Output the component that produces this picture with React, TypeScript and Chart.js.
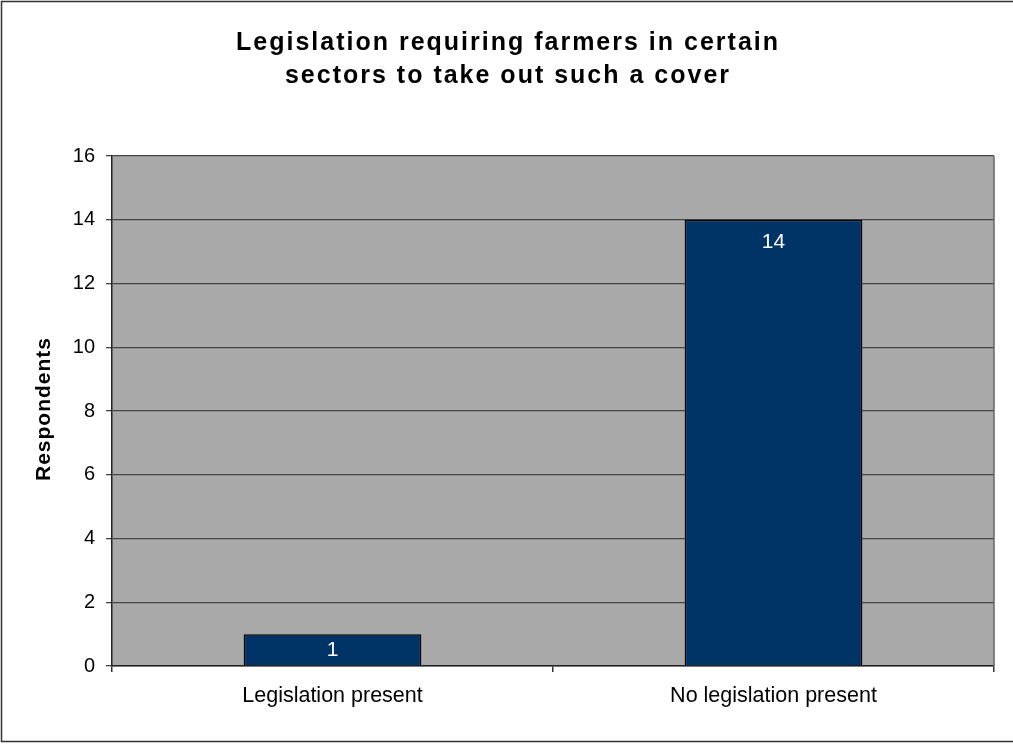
import React, { useEffect, useRef } from "react";
import { Chart, registerables } from "chart.js";

Chart.register(...registerables);

const titleLines = ["Legislation requiring farmers in certain", "sectors to take out such a cover"];
const yAxisTitle = "Respondents";
const categories = ["Legislation present", "No legislation present"];
const respondents = [1, 14];
const yTicks = [0, 2, 4, 6, 8, 10, 12, 14, 16];

const FONT = "'Liberation Sans', Arial, sans-serif";

const decorPlugin = {
  id: "decor",
  beforeDraw(chart: any) {
    const { ctx, chartArea } = chart;
    ctx.save();
    ctx.fillStyle = "#ffffff";
    ctx.fillRect(0, 0, chart.width, chart.height);
    ctx.fillStyle = "#A9A9A9";
    ctx.fillRect(chartArea.left, chartArea.top, chartArea.right - chartArea.left, chartArea.bottom - chartArea.top);
    ctx.strokeStyle = "#333333";
    ctx.lineWidth = 1.5;
    ctx.beginPath();
    ctx.moveTo(chart.width, 1.5);
    ctx.lineTo(1.5, 1.5);
    ctx.lineTo(1.5, 741.5);
    ctx.lineTo(chart.width, 741.5);
    ctx.stroke();
    ctx.restore();
  },
  afterDatasetsDraw(chart: any) {
    const { ctx, chartArea } = chart;
    ctx.save();
    ctx.strokeStyle = "#666666";
    ctx.lineWidth = 1.5;
    ctx.beginPath();
    ctx.moveTo(chartArea.right, chartArea.top);
    ctx.lineTo(chartArea.right, chartArea.bottom);
    ctx.stroke();
    const meta = chart.getDatasetMeta(0);
    ctx.fillStyle = "#ffffff";
    ctx.font = `21px ${FONT}`;
    ctx.textAlign = "center";
    ctx.textBaseline = "middle";
    meta.data.forEach((bar: any, i: number) => {
      const top = bar.y;
      const bottom = bar.base;
      const y = Math.min(top + 22, (top + bottom) / 2);
      ctx.fillText(String(respondents[i]), bar.x, y);
    });
    ctx.fillStyle = "#000000";
    ctx.font = `bold 25px ${FONT}`;
    (ctx as any).letterSpacing = "2px";
    ctx.textBaseline = "alphabetic";
    ctx.fillText(titleLines[0], 508, 49.5);
    ctx.fillText(titleLines[1], 508, 83);
    (ctx as any).letterSpacing = "1px";
    ctx.font = `bold 21px ${FONT}`;
    ctx.translate(44, 409);
    ctx.rotate(-Math.PI / 2);
    ctx.textBaseline = "middle";
    ctx.fillText(yAxisTitle, 0, 0);
    ctx.restore();
  },
};

export default function App() {
  const ref = useRef<HTMLCanvasElement>(null);
  useEffect(() => {
    document.body.style.margin = "0";
    const chart = new Chart(ref.current!, {
      type: "bar",
      data: {
        labels: categories,
        datasets: [
          {
            data: respondents,
            backgroundColor: "#003366",
            borderColor: "#000000",
            borderWidth: 1.5,
            barPercentage: 0.403,
            categoryPercentage: 1,
          },
        ],
      },
      options: {
        animation: false,
        responsive: false,
        layout: { padding: { top: 156, right: 19, left: 0, bottom: 0 } },
        plugins: { legend: { display: false }, title: { display: false }, tooltip: { enabled: false } },
        scales: {
          x: {
            offset: true,
            grid: { offset: true, drawOnChartArea: false, drawTicks: true, tickLength: 6, color: "#333333", lineWidth: 1.5 },
            border: { color: "#222222", width: 1.5 },
            ticks: { color: "#000000", font: { family: FONT, size: 21.5 }, padding: 11 },
            afterFit: (s: any) => { s.height = 78; },
          },
          y: {
            min: 0,
            max: 16,
            afterBuildTicks: (s: any) => { s.ticks = yTicks.map((v) => ({ value: v })); },
            grid: { color: "#444444", lineWidth: 1.3, tickLength: 6 },
            border: { color: "#222222", width: 1.5 },
            ticks: { color: "#000000", font: { family: FONT, size: 20 }, padding: 11 },
            afterFit: (s: any) => { s.width = 112; },
          },
        },
      },
      plugins: [decorPlugin],
    });
    return () => chart.destroy();
  }, []);
  return <canvas ref={ref} width={1013} height={744} style={{ display: "block" }} />;
}
